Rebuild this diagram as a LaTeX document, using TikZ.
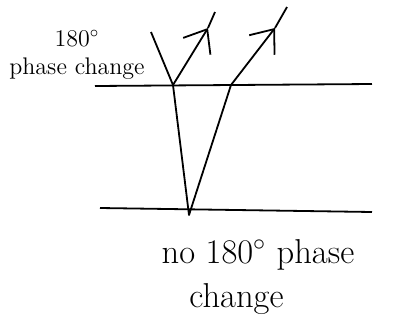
\documentclass[tikz,border=0pt]{standalone}
\usepackage{tikz}
\usetikzlibrary{arrows.meta}
\tikzset{
  >={Straight Barb[length=10pt,width=16pt]},
  sface/.style={line width=0.9pt},
  sray/.style={line width=0.9pt,line join=round},
  slab/.style={align=center,inner sep=1pt},
}

\begin{document}
\begin{tikzpicture}[x=0.5pt,y=-0.5pt]
  \useasboundingbox (0,0) rectangle (393,323);
  % film surfaces
  \coordinate (tl) at (95,86);
  \coordinate (tr) at (372,84);
  \coordinate (bl) at (100,208);
  \coordinate (br) at (372,212);
  \draw[sface] (tl)--(tr);
  \draw[sface] (bl)--(br);
  % rays
  \coordinate (src) at (151,32);
  \coordinate (a) at (173,85);
  \coordinate (v) at (189,215);
  \coordinate (b) at (231,85);
  \coordinate (t1) at (208,28); \coordinate (e1) at (215,12);
  \coordinate (t2) at (275,28); \coordinate (e2) at (287,7);
  \draw[sray] (src)--(a)--(v)--(b);
  \draw[sray,->] (a)--(t1); \draw[sray] (t1)--(e1);
  \draw[sray,->] (b)--(t2); \draw[sray] (t2)--(e2);
  % labels
  \node[slab,font=\large] (top) at (77,55) {180$^\circ$\\phase change};
  \node[slab,font=\LARGE,align=left] (bot) at (258,277)
    {no 180$^\circ$ phase\\\hspace*{0.8em}change};
\end{tikzpicture}
\end{document}
